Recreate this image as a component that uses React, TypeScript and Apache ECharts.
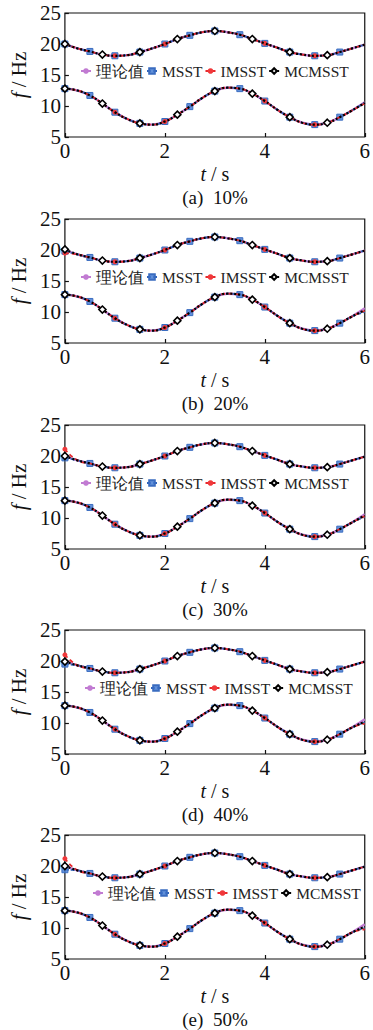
import React, { useEffect, useRef } from "react";
import * as echarts from "echarts";

// ---- data ----
const times = [0, 0.25, 0.5, 0.75, 1, 1.25, 1.5, 1.75, 2, 2.25, 2.5, 2.75, 3, 3.25, 3.5, 3.75, 4, 4.25, 4.5, 4.75, 5, 5.25, 5.5, 5.75, 6];
const theoryUpper = [20.0, 19.3, 18.8, 18.3, 18.1, 18.2, 18.7, 19.3, 20.0, 20.8, 21.4, 21.9, 22.1, 21.9, 21.5, 20.8, 20.1, 19.4, 18.7, 18.3, 18.1, 18.2, 18.7, 19.3, 19.9];
const theoryLower = [12.8, 12.5, 11.7, 10.4, 9.0, 7.9, 7.2, 7.0, 7.5, 8.6, 9.9, 11.3, 12.4, 12.95, 12.8, 12.0, 10.8, 9.4, 8.2, 7.3, 7.0, 7.3, 8.2, 9.3, 10.6];

const msstMarkTimes = [0, 0.5, 1, 1.5, 2, 2.5, 3, 3.5, 4, 4.5, 5, 5.5];
const imsstMarkTimes = [0, 1, 2, 3, 4, 5];
const mcMarkTimes = [0, 0.75, 1.5, 2.25, 3, 3.75, 4.5, 5.25];

const panelCaptions = ["(a)  10%", "(b)  20%", "(c)  30%", "(d)  40%", "(e)  50%"];
// per-panel readings that differ from the theoretical curve (t = 0 upper, t = 6 lower)
const msstUpperStart = [20.0, 19.8, 19.7, 19.5, 19.4];
const imsstUpperStart = [20.0, 19.5, 21.1, 21.0, 21.2];
const mcUpperStart = [20.0, 20.1, 20.0, 19.9, 20.0];
const msstLowerEnd = [10.5, 10.0, 10.2, 10.1, 10.0];
const imsstLowerEnd = [10.4, 10.2, 10.3, 9.9, 9.8];
const mcLowerEnd = [10.5, 10.3, 10.4, 10.2, 10.2];

const yTicks = [5, 10, 15, 20, 25];
const xTicks = [0, 2, 4, 6];

const SERIF = "Liberation Serif";
const NAMES = ["理论值", "MSST", "IMSST", "MCMSST"];

function build(vals: number[], marks: number[] | null, first?: number, last?: number) {
  return times.map((t, i) => {
    let v = vals[i];
    if (i === 0 && first !== undefined) v = first;
    if (i === times.length - 1 && last !== undefined) v = last;
    const item: any = { value: [t, v] };
    if (!marks || !marks.includes(t)) item.symbol = "none";
    return item;
  });
}

export default function App() {
  const ref = useRef<HTMLDivElement>(null);
  useEffect(() => {
    if (!ref.current) return;
    const chart = echarts.init(ref.current, undefined, { renderer: "svg" });
    const left = 62;
    const width = 306;
    const height = 124;
    const tops = [13, 219, 425, 630, 835];
    const legendLefts = [80, 80, 80, 84, 92];
    const txt = { color: "#111", fontFamily: SERIF };

    const grid: any[] = [];
    const xAxis: any[] = [];
    const yAxis: any[] = [];
    const series: any[] = [];
    const legend: any[] = [];
    const graphic: any[] = [];

    tops.forEach((top, p) => {
      grid.push({ left, top, width, height, show: true, borderColor: "#111", borderWidth: 1.2, backgroundColor: "transparent" });
      xAxis.push({
        type: "value", gridIndex: p, min: xTicks[0], max: xTicks[xTicks.length - 1], interval: 2,
        axisLine: { show: false }, splitLine: { show: false },
        axisTick: { show: true, inside: true, length: 4, lineStyle: { color: "#111", width: 1.2 } },
        axisLabel: { ...txt, fontSize: 21, margin: 3, showMaxLabel: true, showMinLabel: true },
        name: "{i|t} / s", nameLocation: "middle", nameGap: 27,
        nameTextStyle: { ...txt, fontSize: 20, rich: { i: { ...txt, fontStyle: "italic", fontSize: 20 } } },
      });
      yAxis.push({
        type: "value", gridIndex: p, min: yTicks[0], max: yTicks[yTicks.length - 1], interval: 5,
        axisLine: { show: false }, splitLine: { show: false },
        axisTick: { show: true, inside: true, length: 4, lineStyle: { color: "#111", width: 1.2 } },
        axisLabel: { ...txt, fontSize: 21, margin: 4 },
        name: "{i|f} / Hz", nameLocation: "middle", nameGap: 27, nameRotate: 90,
        nameTextStyle: { ...txt, fontSize: 21, rich: { i: { ...txt, fontStyle: "italic", fontSize: 21 } } },
      });
      const common = { xAxisIndex: p, yAxisIndex: p, smooth: true, showAllSymbol: true, clip: false };
      [theoryUpper, theoryLower].forEach((vals) => {
        series.push({ ...common, type: "line", name: NAMES[0], symbol: "none", data: build(vals, null),
          lineStyle: { color: "#c17bd2", width: 2.4 }, itemStyle: { color: "#c17bd2" }, z: 1 });
      });
      const msstStyle = { lineStyle: { color: "#2f63ba", width: 1.8, type: [4, 2] }, itemStyle: { color: "rgba(70,125,210,0.85)", borderColor: "#3a6cc0", borderWidth: 1 }, z: 2 };
      series.push({ ...common, type: "line", name: NAMES[1], symbol: "rect", symbolSize: 6, ...msstStyle,
        data: build(theoryUpper, msstMarkTimes, msstUpperStart[p]) });
      series.push({ ...common, type: "line", name: NAMES[1], symbol: "rect", symbolSize: 6, ...msstStyle,
        data: build(theoryLower, msstMarkTimes, undefined, msstLowerEnd[p]) });
      const imsstStyle = { lineStyle: { color: "#e8282c", width: 1.8, type: [4, 3] }, itemStyle: { color: "#f0383a" }, z: 3 };
      series.push({ ...common, type: "line", name: NAMES[2], symbol: "circle", symbolSize: 5, ...imsstStyle,
        data: build(theoryUpper, imsstMarkTimes, imsstUpperStart[p]) });
      series.push({ ...common, type: "line", name: NAMES[2], symbol: "circle", symbolSize: 5, ...imsstStyle,
        data: build(theoryLower, imsstMarkTimes, undefined, imsstLowerEnd[p]) });
      const mcStyle = { lineStyle: { color: "#000", width: 2.2, type: [2, 2] }, itemStyle: { color: "#fff", borderColor: "#000", borderWidth: 1.6 }, z: 4 };
      series.push({ ...common, type: "line", name: NAMES[3], symbol: "diamond", symbolSize: 7, ...mcStyle,
        data: build(theoryUpper, mcMarkTimes, mcUpperStart[p]) });
      series.push({ ...common, type: "line", name: NAMES[3], symbol: "diamond", symbolSize: 7, ...mcStyle,
        data: build(theoryLower, mcMarkTimes, undefined, mcLowerEnd[p]) });

      legend.push({
        data: NAMES, left: legendLefts[p], top: top + 50, orient: "horizontal",
        itemWidth: 10, itemHeight: 7, itemGap: 2, padding: 0, selectedMode: false,
        textStyle: { color: "#222", fontSize: 15.5, fontFamily: SERIF },
      });
      graphic.push({
        type: "text", x: left + width / 2, y: top + 184,
        style: { text: panelCaptions[p], textAlign: "center", textVerticalAlign: "middle", font: `19px ${SERIF}`, fill: "#111" },
      });
    });

    chart.setOption({ animation: false, backgroundColor: "#fff", textStyle: { fontFamily: SERIF }, grid, xAxis, yAxis, series, legend, graphic });
    return () => chart.dispose();
  }, []);
  return <div ref={ref} style={{ position: "absolute", left: 0, top: 0, width: 373, height: 1030 }} />;
}
